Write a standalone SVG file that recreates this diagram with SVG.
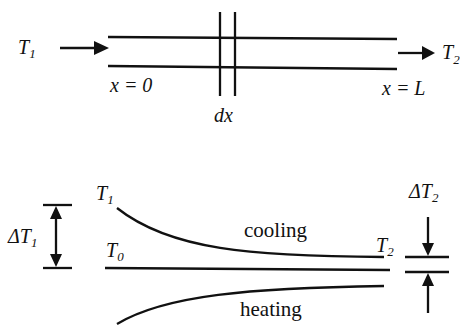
<svg xmlns="http://www.w3.org/2000/svg" width="460" height="332" viewBox="0 0 460 332">
<style>
.ln{stroke:#111;stroke-width:2.3;fill:none}
.t{font-family:"Times New Roman","Liberation Serif","DejaVu Serif",serif;font-style:italic;font-size:20px;fill:#111}
.s{font-size:13px}
.w{font-family:"Times New Roman","Liberation Serif","DejaVu Serif",serif;font-size:21px;fill:#111}
</style>
<g id="pipe">
<line class="ln" x1="108" y1="37" x2="397" y2="39"/>
<line class="ln" x1="108" y1="66" x2="397" y2="69"/>
<line class="ln" x1="220" y1="12" x2="220" y2="96"/>
<line class="ln" x1="235" y1="12" x2="235" y2="96"/>
</g>
<g id="labels-top">
<text class="t" x="18" y="54">T<tspan class="s" dy="4">1</tspan></text>
<text class="t" x="110" y="92">x = 0</text>
<text class="t" x="382" y="95">x = L</text>
<text class="t" x="214" y="122">dx</text>
<text class="t" x="442" y="59">T<tspan class="s" dy="5">2</tspan></text>
</g>
<g id="connectors">
<path d="M60,48 H95" class="ln"/>
<path d="M94,41 L109,48 L94,55z" fill="#111"/>
<path d="M398,53 H423" class="ln"/>
<path d="M422,46 L435,53 L422,60z" fill="#111"/>
</g>
<g id="dT1">
<line class="ln" x1="43" y1="205" x2="72" y2="205"/>
<line class="ln" x1="43" y1="268" x2="72" y2="268"/>
<line class="ln" x1="56" y1="212" x2="56" y2="260"/>
<path d="M50,219 L56,206 L62,219z M50,254 L56,267 L62,254z" fill="#111"/>
<text class="t" x="8" y="243">ΔT<tspan class="s" dy="4">1</tspan></text>
</g>
<g id="curves">
<text class="t" x="96" y="200">T<tspan class="s" dy="4">1</tspan></text>
<path class="ln" d="M117,208 C170,250 250,256 384,257"/>
<text class="t" x="106" y="257">T<tspan class="s" dy="4">0</tspan></text>
<line class="ln" x1="105" y1="268" x2="390" y2="270"/>
<path class="ln" d="M117,324 C165,295 250,288 384,286"/>
<text class="t" x="376" y="252">T<tspan class="s" dy="4">2</tspan></text>
<text class="w" x="244" y="237">cooling</text>
<text class="w" x="240" y="316">heating</text>
</g>
<g id="dT2">
<line class="ln" x1="405" y1="257" x2="449" y2="257"/>
<line class="ln" x1="405" y1="272" x2="449" y2="272"/>
<line class="ln" x1="428" y1="217" x2="428" y2="246"/>
<path d="M422,243 L428,256 L434,243z" fill="#111"/>
<line class="ln" x1="428" y1="284" x2="428" y2="313"/>
<path d="M422,286 L428,273 L434,286z" fill="#111"/>
<text class="t" x="409" y="198">ΔT<tspan class="s" dy="4">2</tspan></text>
</g>
</svg>
